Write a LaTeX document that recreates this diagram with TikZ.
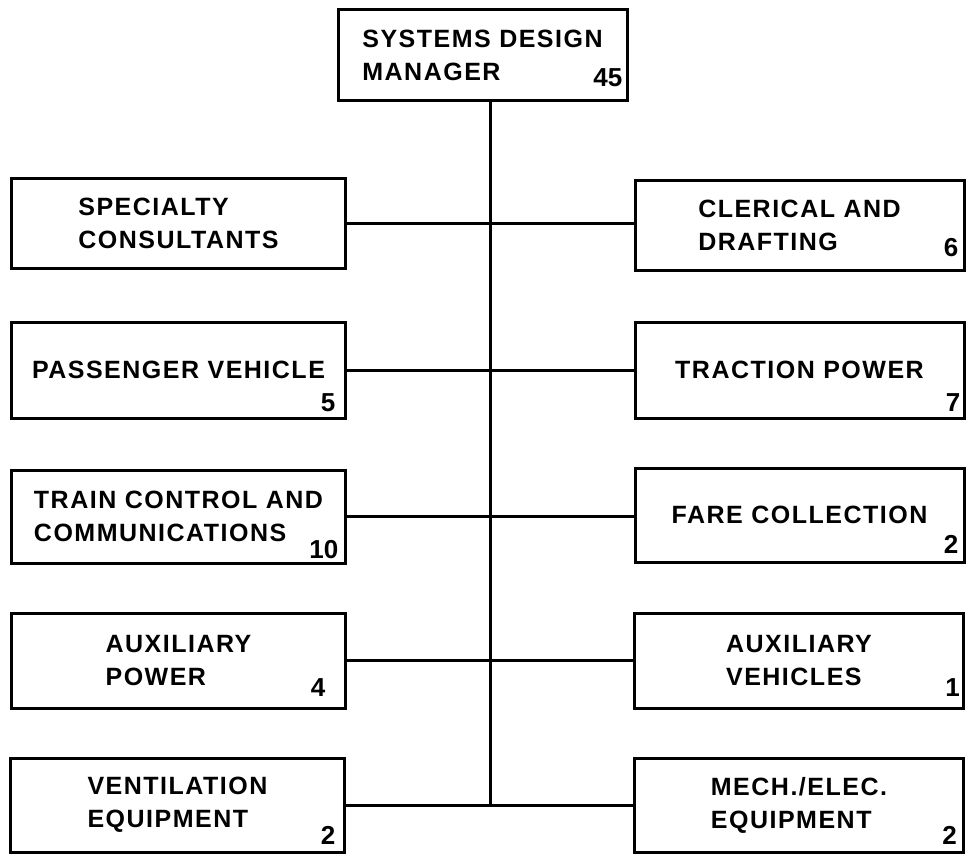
\documentclass[tikz,border=0pt]{standalone}
\usepackage{fontspec}
\newfontfamily\lblfont{Liberation Sans}[LetterSpace=6]
\newfontfamily\numfont{Liberation Sans}
\begin{document}
\begin{tikzpicture}[x=1bp,y=-1bp,
  box/.style={draw, line width=3bp, align=left, inner sep=0pt,
    font=\lblfont\bfseries\fontsize{25bp}{33bp}\selectfont},
  lbox/.style={box, minimum width=333bp},
  rbox/.style={box, minimum width=329bp},
  num/.style={inner sep=0pt, anchor=base east,
    font=\numfont\bfseries\fontsize{26bp}{26bp}\selectfont},
  conn/.style={line width=3bp}]
\useasboundingbox (0,0) rectangle (971,854);
% boxes
\node[box, minimum width=289bp, minimum height=90bp] (top) at (482.5,55) {SYSTEMS DESIGN\\MANAGER};
\node[lbox, minimum height=90bp] (l1) at (178.5,223) {SPECIALTY\\CONSULTANTS};
\node[rbox, minimum height=90bp] (r1) at (799.5,225) {CLERICAL AND\\DRAFTING};
\node[lbox, minimum height=96bp] (l2) at (178.5,370) {PASSENGER VEHICLE};
\node[rbox, minimum height=96bp] (r2) at (799.5,370) {TRACTION POWER};
\node[lbox, minimum height=93bp] (l3) at (178.5,516.5) {TRAIN CONTROL AND\\COMMUNICATIONS};
\node[rbox, minimum height=94bp] (r3) at (799.5,515) {FARE COLLECTION};
\node[lbox, minimum height=95bp] (l4) at (178.5,660.5) {AUXILIARY\\POWER};
\node[rbox, minimum height=95bp] (r4) at (799,660.5) {AUXILIARY\\VEHICLES};
\node[lbox, minimum height=94bp] (l5) at (177.5,805) {VENTILATION\\EQUIPMENT};
\node[rbox, minimum height=94bp] (r5) at (799,805) {MECH./ELEC.\\EQUIPMENT};
% numbers
\node[num, xshift=-6bp, yshift=15bp] (n0) at (top.south east) {45};
\node[num, xshift=-7bp, yshift=15bp] (n1r) at (r1.south east) {6};
\node[num, xshift=-11bp, yshift=8bp] (n2l) at (l2.south east) {5};
\node[num, xshift=-5bp, yshift=8bp] (n2r) at (r2.south east) {7};
\node[num, xshift=-8bp, yshift=6bp] (n3l) at (l3.south east) {10};
\node[num, xshift=-7bp, yshift=10bp] (n3r) at (r3.south east) {2};
\node[num, xshift=-21bp, yshift=13bp] (n4l) at (l4.south east) {4};
\node[num, xshift=-5bp, yshift=13bp] (n4r) at (r4.south east) {1};
\node[num, xshift=-10bp, yshift=9bp] (n5l) at (l5.south east) {2};
\node[num, xshift=-8bp, yshift=9bp] (n5r) at (r5.south east) {2};
% connectors
\coordinate (spine) at (490,805);
\draw[conn] (top.south -| spine) -- (spine);
\draw[conn] (l1.east) -- (l1.east -| r1.west);
\draw[conn] (l2.east) -- (r2.west);
\draw[conn] (l3.east) -- (l3.east -| r3.west);
\draw[conn] (l4.east) -- (r4.west);
\draw[conn] (l5.east) -- (r5.west);
\end{tikzpicture}
\end{document}
